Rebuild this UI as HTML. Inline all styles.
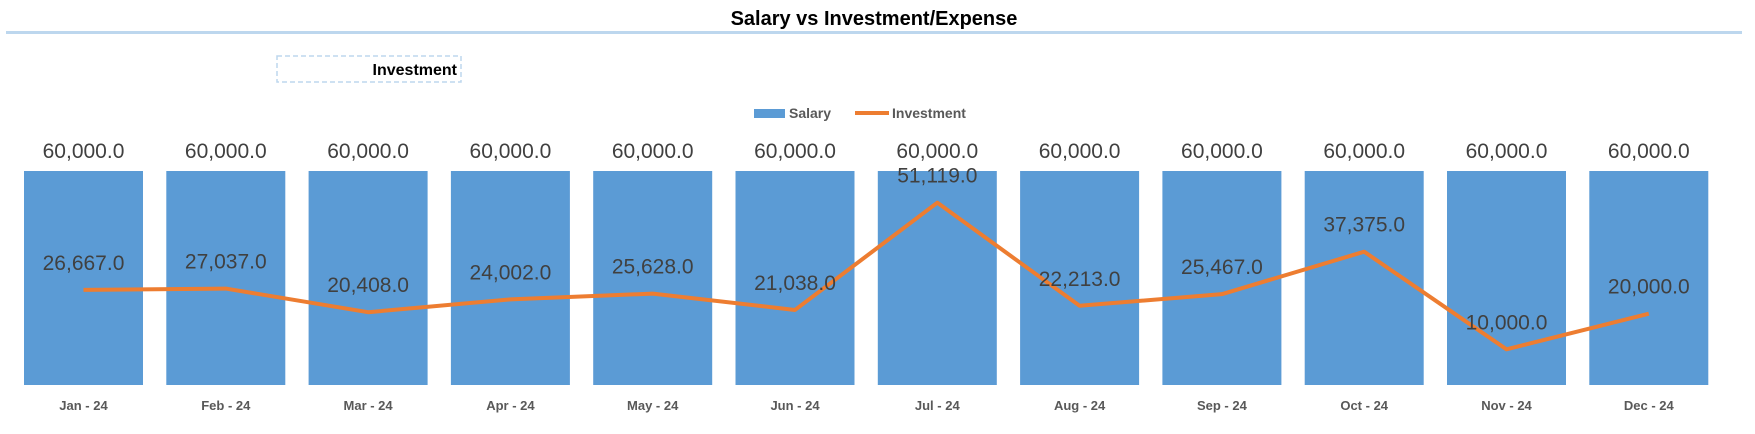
<!DOCTYPE html>
<html><head><meta charset="utf-8"><style>
body{margin:0;background:#fff;width:1755px;height:429px;overflow:hidden;font-family:"Liberation Sans",sans-serif}
</style></head><body>
<svg id="chart" width="1755" height="429" xmlns="http://www.w3.org/2000/svg">
<text x="874" y="25" text-anchor="middle" font-size="20" font-weight="bold" fill="#000">Salary vs Investment/Expense</text>
<rect x="6" y="31" width="1736" height="3" fill="#bdd7ee"/>
<rect x="277" y="56" width="184" height="26" fill="none" stroke="#bdd7ee" stroke-width="1.5" stroke-dasharray="5,3"/>
<text x="457" y="75" text-anchor="end" font-size="16" font-weight="bold" fill="#000">Investment</text>
<g>
<rect x="754" y="109" width="31" height="9" fill="#5b9bd5"/>
<text x="789" y="118" font-size="14" font-weight="bold" fill="#595959">Salary</text>
<line x1="855" y1="113" x2="889" y2="113" stroke="#ed7d31" stroke-width="4"/>
<text x="892" y="118" font-size="14" font-weight="bold" fill="#595959">Investment</text>
</g>
<g id="bars"></g><g id="line"></g><g id="labels"></g>
</svg>
<script>
const categories=["Jan - 24","Feb - 24","Mar - 24","Apr - 24","May - 24","Jun - 24","Jul - 24","Aug - 24","Sep - 24","Oct - 24","Nov - 24","Dec - 24"];
const salary=[60000,60000,60000,60000,60000,60000,60000,60000,60000,60000,60000,60000];
const investment=[26667,27037,20408,24002,25628,21038,51119,22213,25467,37375,10000,20000];
const NS="http://www.w3.org/2000/svg";
const y0=385, yTop=171, maxV=60000;
function yScale(v){return y0-v*(y0-yTop)/maxV;}
function xScale(i){return 83.5+i*142.3;}
const bw=119;
function fmt(v){return v.toLocaleString("en-US",{minimumFractionDigits:1,maximumFractionDigits:1});}
function mk(tag,attrs,parent){const e=document.createElementNS(NS,tag);for(const k in attrs)e.setAttribute(k,attrs[k]);parent.appendChild(e);return e;}
const gb=document.getElementById("bars"),gl=document.getElementById("line"),gt=document.getElementById("labels");
categories.forEach((c,i)=>{
  const r=mk("rect",{x:xScale(i)-bw/2,y:yScale(salary[i]),width:bw,height:y0-yScale(salary[i]),fill:"#5b9bd5"},gb);
  
  
  const t=mk("text",{x:xScale(i),y:yScale(salary[i])-13,"text-anchor":"middle","font-size":"21",fill:"#404040"},gt);
  t.textContent=fmt(salary[i]);
  
  
  const x=mk("text",{x:xScale(i),y:410,"text-anchor":"middle","font-size":"13","font-weight":"bold",fill:"#595959"},gt);
  x.textContent=c;
  
  
});
const pts=investment.map((v,i)=>xScale(i)+","+yScale(v)).join(" ");
const pl=mk("polyline",{points:pts,fill:"none",stroke:"#ed7d31","stroke-width":"4","stroke-linejoin":"round"},gl);


investment.forEach((v,i)=>{
  const t=mk("text",{x:xScale(i),y:yScale(v)-20,"text-anchor":"middle","font-size":"21",fill:"#404040"},gt);
  t.textContent=fmt(v);
  
  
});
</script>
</body></html>
